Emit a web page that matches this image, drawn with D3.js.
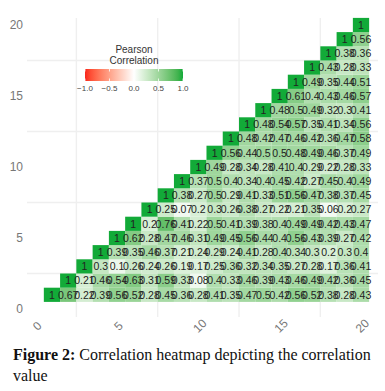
<!DOCTYPE html>
<html><head><meta charset="utf-8">
<script src="https://cdn.jsdelivr.net/npm/d3@7"></script>
<style>
body{margin:0;background:#fff;}
svg{display:block;}
</style></head>
<body>
<svg id="chart" width="385" height="391"></svg>
<script>
// ---- data ----
const xTicks = [0, 5, 10, 15, 20];
const yTicks = [0, 5, 10, 15, 20];
const gridBreaks = [2.5, 7.5, 12.5, 17.5];
const legendTicks = [-1.0, -0.5, 0.0, 0.5, 1.0];
// row k holds correlations of variable k with variables k..20
const row1  = [1, 0.67, 0.22, 0.39, 0.56, 0.52, 0.28, 0.45, 0.36, 0.28, 0.41, 0.35, 0.47, 0.5, 0.42, 0.56, 0.52, 0.38, 0.28, 0.43];
const row2  = [1, 0.21, 0.46, 0.54, 0.63, 0.31, 0.59, 0.33, 0.08, 0.4, 0.33, 0.46, 0.39, 0.43, 0.46, 0.49, 0.42, 0.36, 0.45];
const row3  = [1, 0.3, 0.1, 0.26, 0.24, 0.26, 0.19, 0.17, 0.25, 0.36, 0.32, 0.34, 0.35, 0.27, 0.28, 0.17, 0.36, 0.41];
const row4  = [1, 0.39, 0.35, 0.46, 0.37, 0.21, 0.24, 0.29, 0.24, 0.41, 0.28, 0.4, 0.34, 0.3, 0.2, 0.3, 0.4];
const row5  = [1, 0.62, 0.28, 0.47, 0.46, 0.31, 0.49, 0.45, 0.56, 0.44, 0.4, 0.56, 0.43, 0.39, 0.27, 0.42];
const row6  = [1, 0.2, 0.76, 0.41, 0.22, 0.5, 0.41, 0.39, 0.38, 0.4, 0.49, 0.49, 0.42, 0.43, 0.47];
const row7  = [1, 0.25, 0.07, 0.2, 0.3, 0.26, 0.38, 0.27, 0.22, 0.21, 0.35, 0.06, 0.2, 0.27];
const row8  = [1, 0.38, 0.27, 0.5, 0.29, 0.41, 0.33, 0.51, 0.56, 0.47, 0.38, 0.37, 0.45];
const row9  = [1, 0.37, 0.5, 0.4, 0.34, 0.4, 0.45, 0.42, 0.27, 0.45, 0.4, 0.49];
const row10 = [1, 0.49, 0.28, 0.34, 0.28, 0.41, 0.4, 0.29, 0.22, 0.28, 0.33];
const row11 = [1, 0.56, 0.44, 0.5, 0.5, 0.48, 0.49, 0.46, 0.37, 0.49];
const row12 = [1, 0.48, 0.42, 0.47, 0.46, 0.42, 0.36, 0.47, 0.58];
const row13 = [1, 0.48, 0.54, 0.57, 0.35, 0.41, 0.34, 0.56];
const row14 = [1, 0.48, 0.5, 0.49, 0.32, 0.3, 0.41];
const row15 = [1, 0.61, 0.4, 0.43, 0.46, 0.57];
const row16 = [1, 0.49, 0.35, 0.44, 0.51];
const row17 = [1, 0.43, 0.28, 0.33];
const row18 = [1, 0.38, 0.36];
const row19 = [1, 0.56];
const row20 = [1];
const rows = [row1,row2,row3,row4,row5,row6,row7,row8,row9,row10,row11,row12,row13,row14,row15,row16,row17,row18,row19,row20];

const cells = [];
rows.forEach((vals, i) => {
  const r = i + 1;
  vals.forEach((v, j) => cells.push({x: r + j, y: r, v: v}));
});

// ---- drawing ----
const svg = d3.select("#chart");
const x = d3.scaleLinear().domain([0, 20]).range([35.7, 361]);
const y = d3.scaleLinear().domain([0, 20]).range([309, 25]);
const color = d3.scaleLinear().domain([-1, 0, 1])
  .range(["#f8261c", "#ffffff", "#12aa38"]).interpolate(d3.interpolateLab);

const panel = {x0: 27, x1: 378, y0: 18, y1: 317};

// gridlines
const grid = svg.append("g").attr("stroke", "#efefef").attr("stroke-width", 1.4);
gridBreaks.forEach(b => {
  grid.append("line").attr("x1", x(b)).attr("x2", x(b)).attr("y1", panel.y0).attr("y2", panel.y1);
  grid.append("line").attr("y1", y(b)).attr("y2", y(b)).attr("x1", panel.x0).attr("x2", panel.x1);
});

// tiles
svg.append("g").selectAll("rect").data(cells).join("rect")
  .attr("x", d => x(d.x - 0.5))
  .attr("y", d => y(d.y + 0.5))
  .attr("width", d => x(d.x + 0.5) - x(d.x - 0.5))
  .attr("height", d => y(d.y - 0.5) - y(d.y + 0.5))
  .attr("fill", d => color(d.v));

// labels
svg.append("g").selectAll("text").data(cells).join("text")
  .attr("x", d => x(d.x))
  .attr("y", d => y(d.y))
  .attr("dy", "0.36em")
  .attr("text-anchor", "middle")
  .attr("font-family", "Liberation Sans, Arial, sans-serif")
  .attr("font-size", 10.5)
  .attr("fill", "#222")
  .text(d => String(d.v));

// y axis
const yAxis = svg.append("g").attr("transform", "translate(27,0)")
  .call(d3.axisLeft(y).tickValues(yTicks).tickSize(0).tickPadding(4).tickFormat(d3.format("d")));
yAxis.select(".domain").remove();
yAxis.selectAll("text").attr("font-family", "Liberation Sans, Arial, sans-serif")
  .attr("font-size", 12).attr("fill", "#777");

// x axis
const xAxis = svg.append("g").attr("transform", "translate(0,317)")
  .call(d3.axisBottom(x).tickValues(xTicks).tickSize(0).tickFormat(d3.format("d")));
xAxis.select(".domain").remove();
xAxis.selectAll("text")
  .attr("font-family", "Liberation Sans, Arial, sans-serif")
  .attr("font-size", 12).attr("fill", "#777")
  .attr("text-anchor", "middle")
  .attr("y", 0).attr("dy", 0)
  .attr("transform", "translate(1,9) rotate(-45)")
  .attr("dominant-baseline", "central");

// legend
const lg = svg.append("g");
const lx = d3.scaleLinear().domain([-1, 1]).range([85, 183]);
const defs = svg.append("defs");
const grad = defs.append("linearGradient").attr("id", "lgrad");
d3.range(0, 1.0001, 0.05).forEach(t => {
  grad.append("stop").attr("offset", t).attr("stop-color", color(-1 + 2 * t));
});
lg.append("rect").attr("x", lx(-1)).attr("y", 69).attr("width", lx(1) - lx(-1)).attr("height", 12)
  .attr("fill", "url(#lgrad)");
legendTicks.forEach(t => {
  lg.append("line").attr("x1", lx(t)).attr("x2", lx(t)).attr("y1", 69).attr("y2", 71.5)
    .attr("stroke", "#fff").attr("stroke-width", 0.8);
  lg.append("line").attr("x1", lx(t)).attr("x2", lx(t)).attr("y1", 78.5).attr("y2", 81)
    .attr("stroke", "#fff").attr("stroke-width", 0.8);
});
lg.selectAll("text.tk").data(legendTicks).join("text").attr("class", "tk")
  .attr("x", d => lx(d)).attr("y", 91)
  .attr("text-anchor", "middle")
  .attr("font-family", "Liberation Sans, Arial, sans-serif")
  .attr("font-size", 8).attr("fill", "#444")
  .text(d => d3.format(".1f")(d));
["Pearson", "Correlation"].forEach((s, i) => {
  lg.append("text").attr("x", 134).attr("y", 53 + i * 10.5)
    .attr("text-anchor", "middle")
    .attr("font-family", "Liberation Sans, Arial, sans-serif")
    .attr("font-size", 10).attr("fill", "#333").text(s);
});

// caption
const cap = svg.append("text").attr("x", 13).attr("y", 360)
  .attr("font-family", "Liberation Serif, Times New Roman, serif")
  .attr("font-size", 16).attr("fill", "#111");
cap.append("tspan").attr("font-weight", "bold").text("Figure 2:");
cap.append("tspan").text(" Correlation heatmap depicting the correlation");
svg.append("text").attr("x", 13).attr("y", 381)
  .attr("font-family", "Liberation Serif, Times New Roman, serif")
  .attr("font-size", 16).attr("fill", "#111").text("value");
</script>
</body></html>
